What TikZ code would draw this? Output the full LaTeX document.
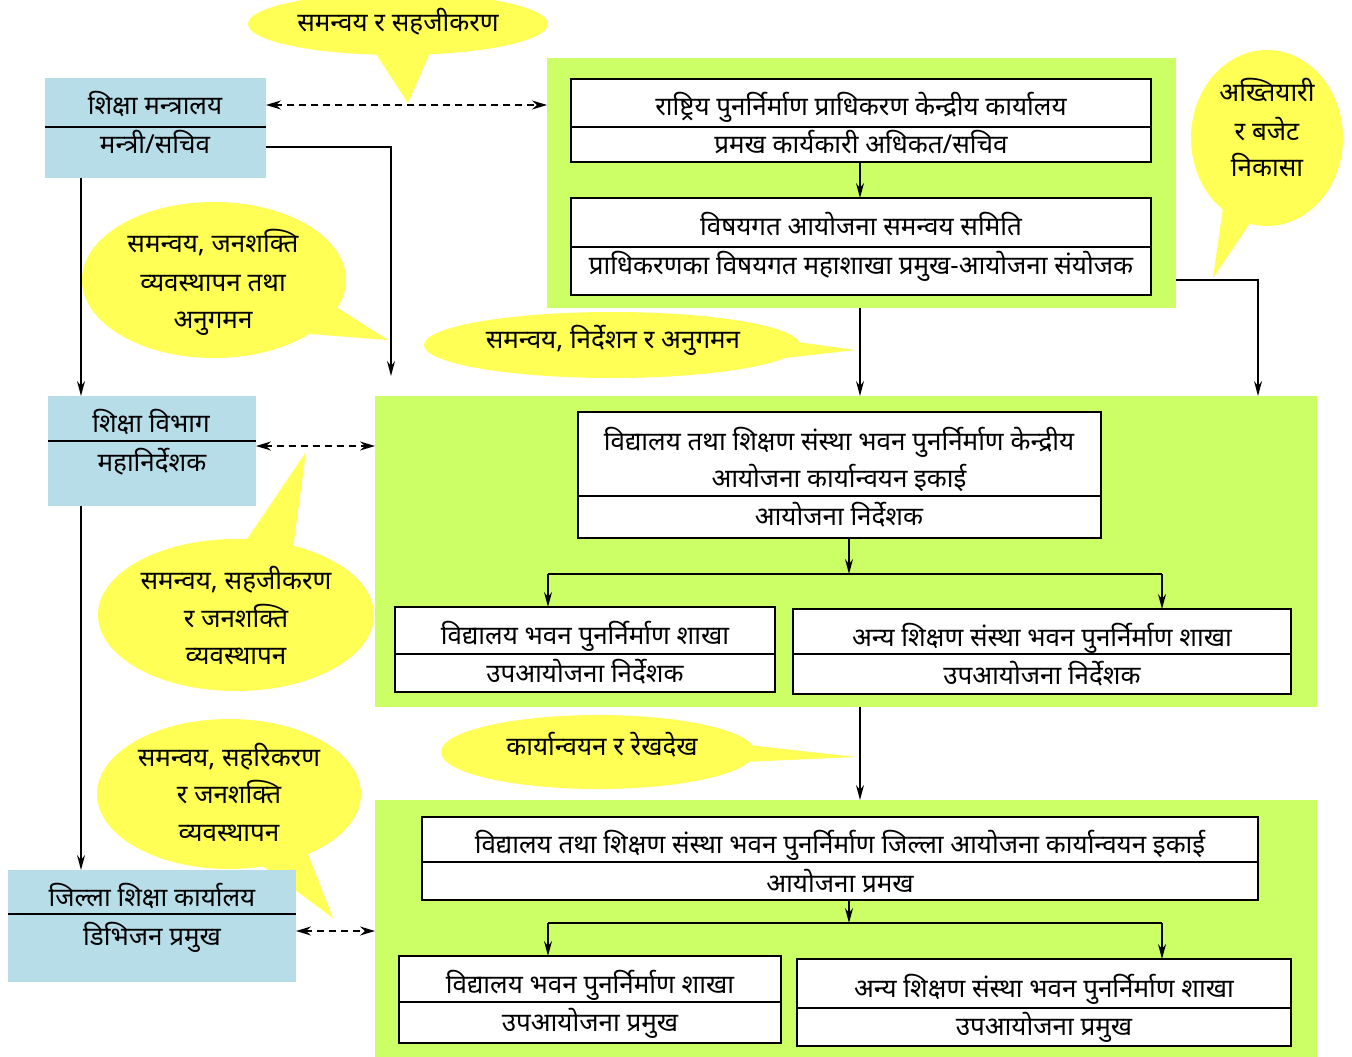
\documentclass[tikz,border=0pt]{standalone}
\usepackage{fontspec}
\newfontfamily\deva[Script=Devanagari]{Noto Sans}
\usetikzlibrary{shapes.geometric,arrows.meta}
\definecolor{boxblue}{HTML}{B7DDE8}
\definecolor{panelgreen}{HTML}{CCFF66}
\definecolor{callyellow}{HTML}{FFFF55}
\newcommand{\txt}[4]{\node[lbl] (#1) at ({#2},{#3+10}) {#4};}
\begin{document}
\begin{tikzpicture}[x=1pt,y=-1pt,
 every node/.style={inner sep=0pt,outer sep=0pt},
 bluebox/.style={rectangle,fill=boxblue},
 panel/.style={rectangle,fill=panelgreen},
 whitebox/.style={rectangle,fill=white,draw=black,line width=1.3pt},
 divider/.style={line width=1.8pt},
 lbl/.style={font=\deva\fontsize{26}{30}\selectfont,anchor=base},
 conn/.style={line width=1.5pt,-{Stealth[length=15pt,width=8pt,inset=5pt]}},
 plain/.style={line width=1.5pt},
 dlink/.style={line width=1.5pt,dash pattern=on 7pt off 5pt,{Stealth[length=15pt,width=9pt,inset=5pt]}-{Stealth[length=15pt,width=9pt,inset=5pt]}},
 bubble/.style={ellipse,fill=callyellow},
 tail/.style={fill=callyellow}
]
\useasboundingbox (0,0) rectangle (1352,1057);
\fill[white] (0,0) rectangle (1352,1057);

% ---------- callouts ----------
\node[bubble,minimum width=300pt,minimum height=62pt] (c1) at (398,24) {};
\coordinate (c1a) at (372,48); \coordinate (c1b) at (432,48); \coordinate (c1t) at (408,103);
\fill[tail] (c1a) -- (c1t) -- (c1b) -- cycle;

\node[bubble,minimum width=264pt,minimum height=156pt] (c2) at (214,280) {};
\coordinate (c2a) at (330,303); \coordinate (c2b) at (310,334); \coordinate (c2t) at (388,340);
\fill[tail] (c2a) -- (c2t) -- (c2b) -- cycle;

\node[bubble,minimum width=376pt,minimum height=66pt] (c3) at (612,345) {};
\coordinate (c3a) at (790,341); \coordinate (c3b) at (785,358); \coordinate (c3t) at (855,350);
\fill[tail] (c3a) -- (c3t) -- (c3b) -- cycle;

\node[bubble,minimum width=152pt,minimum height=176pt] (c4) at (1267,138) {};
\coordinate (c4a) at (1223,208); \coordinate (c4b) at (1252,220); \coordinate (c4t) at (1213,278);
\fill[tail] (c4a) -- (c4t) -- (c4b) -- cycle;

\node[bubble,minimum width=276pt,minimum height=152pt] (c5) at (236,615) {};
\coordinate (c5a) at (243,545); \coordinate (c5b) at (293,548); \coordinate (c5t) at (306,452);
\fill[tail] (c5a) -- (c5t) -- (c5b) -- cycle;

\node[bubble,minimum width=314pt,minimum height=74pt] (c6) at (598,752) {};
\coordinate (c6a) at (748,745); \coordinate (c6b) at (743,762); \coordinate (c6t) at (856,757);
\fill[tail] (c6a) -- (c6t) -- (c6b) -- cycle;

\node[bubble,minimum width=264pt,minimum height=150pt] (c7) at (229,794) {};
\coordinate (c7a) at (260,864); \coordinate (c7b) at (308,854); \coordinate (c7t) at (333,918);
\fill[tail] (c7a) -- (c7t) -- (c7b) -- cycle;

% ---------- blue boxes ----------
\node[bluebox,minimum width=221pt,minimum height=100pt] (min) at (155.5,128) {};
\node[bluebox,minimum width=208pt,minimum height=110pt] (dep) at (152,451) {};
\node[bluebox,minimum width=288pt,minimum height=112pt] (dis) at (152,926) {};
\draw[divider] (min.west |- 0,127) -- (min.east |- 0,127);
\draw[divider] (dep.west |- 0,441) -- (dep.east |- 0,441);
\draw[divider] (dis.west |- 0,914) -- (dis.east |- 0,914);

% ---------- green panels ----------
\node[panel,minimum width=629pt,minimum height=250pt] (pA) at (861.5,183) {};
\node[panel,minimum width=942pt,minimum height=311pt] (pB) at (846,551.5) {};
\node[panel,minimum width=942pt,minimum height=257pt] (pC) at (846,928.5) {};

% ---------- white boxes ----------
\node[whitebox,minimum width=580pt,minimum height=83pt] (a1) at (861,120.5) {};
\node[whitebox,minimum width=580pt,minimum height=97pt] (a2) at (861,246.5) {};
\node[whitebox,minimum width=523pt,minimum height=126pt] (b1) at (839.5,475) {};
\node[whitebox,minimum width=380pt,minimum height=85pt] (b2) at (585,649.5) {};
\node[whitebox,minimum width=498pt,minimum height=85pt] (b3) at (1042,651.5) {};
\node[whitebox,minimum width=836pt,minimum height=83pt] (cc1) at (840,858.5) {};
\node[whitebox,minimum width=382pt,minimum height=87pt] (cc2) at (590,999.5) {};
\node[whitebox,minimum width=494pt,minimum height=87pt] (cc3) at (1044,1002.5) {};
\draw[divider] (a1.west |- 0,127) -- (a1.east |- 0,127);
\draw[divider] (a2.west |- 0,247) -- (a2.east |- 0,247);
\draw[divider] (b1.west |- 0,496) -- (b1.east |- 0,496);
\draw[divider] (b2.west |- 0,654) -- (b2.east |- 0,654);
\draw[divider] (b3.west |- 0,654) -- (b3.east |- 0,654);
\draw[divider] (cc1.west |- 0,862) -- (cc1.east |- 0,862);
\draw[divider] (cc2.west |- 0,1002) -- (cc2.east |- 0,1002);
\draw[divider] (cc3.west |- 0,1008) -- (cc3.east |- 0,1008);

% ---------- texts ----------
\txt{tm1}{155}{104}{शिक्षा मन्त्रालय}
\txt{tm2}{155}{143}{मन्त्री/सचिव}
\txt{td1}{151}{422}{शिक्षा विभाग}
\txt{td2}{152}{461}{महानिर्देशक}
\txt{tz1}{152}{896}{जिल्ला शिक्षा कार्यालय}
\txt{tz2}{152}{935}{डिभिजन प्रमुख}
\txt{ta1}{861}{105}{राष्ट्रिय पुनर्निर्माण प्राधिकरण केन्द्रीय कार्यालय}
\txt{ta2}{861}{143}{प्रमख कार्यकारी अधिकत/सचिव}
\txt{ta3}{861}{225}{विषयगत आयोजना समन्वय समिति}
\txt{ta4}{861}{264}{प्राधिकरणका विषयगत महाशाखा प्रमुख-आयोजना संयोजक}
\txt{tb1}{839}{440}{विद्यालय तथा शिक्षण संस्था भवन पुनर्निर्माण केन्द्रीय}
\txt{tb2}{839}{477}{आयोजना कार्यान्वयन इकाई}
\txt{tb3}{839}{515}{आयोजना निर्देशक}
\txt{tb4}{585}{634}{विद्यालय भवन पुनर्निर्माण शाखा}
\txt{tb5}{585}{672}{उपआयोजना निर्देशक}
\txt{tb6}{1042}{636}{अन्य शिक्षण संस्था भवन पुनर्निर्माण शाखा}
\txt{tb7}{1042}{674}{उपआयोजना निर्देशक}
\txt{tc1}{840}{843}{विद्यालय तथा शिक्षण संस्था भवन पुनर्निर्माण जिल्ला आयोजना कार्यान्वयन इकाई}
\txt{tc2}{840}{882}{आयोजना प्रमख}
\txt{tc3}{590}{983}{विद्यालय भवन पुनर्निर्माण शाखा}
\txt{tc4}{590}{1021}{उपआयोजना प्रमुख}
\txt{tc5}{1044}{987}{अन्य शिक्षण संस्था भवन पुनर्निर्माण शाखा}
\txt{tc6}{1044}{1025}{उपआयोजना प्रमुख}
\txt{k1}{398}{22}{समन्वय र सहजीकरण}
\txt{k2}{213}{242}{समन्वय, जनशक्ति}
\txt{k3}{213}{281}{व्यवस्थापन तथा}
\txt{k4}{213}{318}{अनुगमन}
\txt{k5}{613}{338}{समन्वय, निर्देशन र अनुगमन}
\txt{k6}{1267}{92}{अख्तियारी}
\txt{k7}{1267}{130}{र बजेट}
\txt{k8}{1267}{166}{निकासा}
\txt{k9}{236}{579}{समन्वय, सहजीकरण}
\txt{k10}{236}{617}{र जनशक्ति}
\txt{k11}{236}{654}{व्यवस्थापन}
\txt{k12}{602}{745}{कार्यान्वयन र रेखदेख}
\txt{k13}{229}{756}{समन्वय, सहरिकरण}
\txt{k14}{229}{793}{र जनशक्ति}
\txt{k15}{229}{831}{व्यवस्थापन}

% ---------- connectors ----------
\coordinate (colL) at (81,0);
\coordinate (colK) at (391,0);
\coordinate (colM) at (860,0);
\coordinate (colR) at (1258,0);
\coordinate (colC) at (849,0);
\coordinate (colB2) at (548,0);
\coordinate (colB3) at (1162,0);
\coordinate (rowTop) at (0,105);
\coordinate (rowM) at (0,147);
\coordinate (rowR) at (0,280);
\coordinate (rowD) at (0,446);
\coordinate (rowZ) at (0,931);
\coordinate (barB) at (0,574);
\coordinate (barC) at (0,923);

\draw[dlink] (min.east |- rowTop) -- (pA.west |- rowTop);
\draw[dlink] (dep.east |- rowD) -- (pB.west |- rowD);
\draw[dlink] (dis.east |- rowZ) -- (pC.west |- rowZ);

\draw[conn] (min.south -| colL) -- (dep.north -| colL);
\draw[conn] (dep.south -| colL) -- (dis.north -| colL);
\draw[conn,shorten >=20pt] (min.east |- rowM) -| (pB.north -| colK);
\draw[conn] (a1.south -| colM) -- (a2.north -| colM);
\draw[conn] (pA.south -| colM) -- (pB.north -| colM);
\draw[conn] (pA.east |- rowR) -| (pB.north -| colR);
\draw[conn] (pB.south -| colM) -- (pC.north -| colM);

\draw[conn] (b1.south -| colC) -- (colC |- barB);
\draw[plain] (colB2 |- barB) -- (colB3 |- barB);
\draw[conn] (colB2 |- barB) -- (b2.north -| colB2);
\draw[conn] (colB3 |- barB) -- (b3.north -| colB3);

\draw[conn] (cc1.south -| colC) -- (colC |- barC);
\draw[plain] (colB2 |- barC) -- (colB3 |- barC);
\draw[conn] (colB2 |- barC) -- (cc2.north -| colB2);
\draw[conn] (colB3 |- barC) -- (cc3.north -| colB3);
\end{tikzpicture}
\end{document}
